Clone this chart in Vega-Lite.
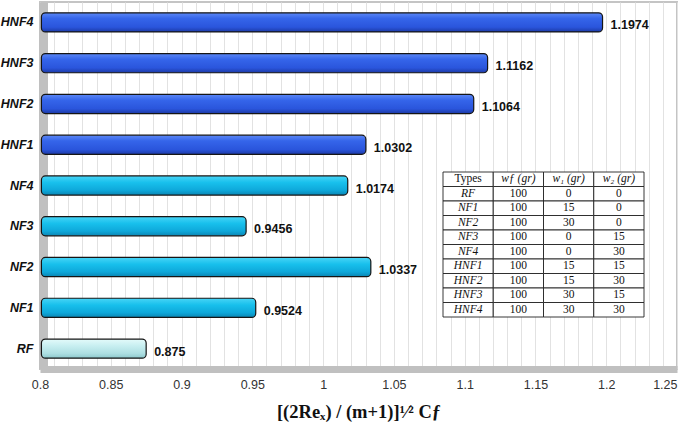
{
  "$schema": "https://vega.github.io/schema/vega-lite/v6.json",
  "autosize": "none",
  "width": 637,
  "height": 367,
  "padding": {"left": 40, "top": 2, "right": 8, "bottom": 60},
  "background": "white",
  "config": {"view": {"stroke": "#c4c4c4", "strokeWidth": 2}},
  "datasets": {
    "bars": [
      {"type": "HNF4", "value": 1.1974, "group": "HNF"},
      {"type": "HNF3", "value": 1.1162, "group": "HNF"},
      {"type": "HNF2", "value": 1.1064, "group": "HNF"},
      {"type": "HNF1", "value": 1.0302, "group": "HNF"},
      {"type": "NF4", "value": 1.0174, "group": "NF"},
      {"type": "NF3", "value": 0.9456, "group": "NF"},
      {"type": "NF2", "value": 1.0337, "group": "NF"},
      {"type": "NF1", "value": 0.9524, "group": "NF"},
      {"type": "RF", "value": 0.875, "group": "RF"}
    ],
    "table": [
      {"row": "hdr", "Types": "Types", "wf": "wƒ (gr)", "w1": "w₁ (gr)", "w2": "w₂ (gr)"},
      {"row": "RF", "Types": "RF", "wf": "100", "w1": "0", "w2": "0"},
      {"row": "NF1", "Types": "NF1", "wf": "100", "w1": "15", "w2": "0"},
      {"row": "NF2", "Types": "NF2", "wf": "100", "w1": "30", "w2": "0"},
      {"row": "NF3", "Types": "NF3", "wf": "100", "w1": "0", "w2": "15"},
      {"row": "NF4", "Types": "NF4", "wf": "100", "w1": "0", "w2": "30"},
      {"row": "HNF1", "Types": "HNF1", "wf": "100", "w1": "15", "w2": "15"},
      {"row": "HNF2", "Types": "HNF2", "wf": "100", "w1": "15", "w2": "30"},
      {"row": "HNF3", "Types": "HNF3", "wf": "100", "w1": "30", "w2": "15"},
      {"row": "HNF4", "Types": "HNF4", "wf": "100", "w1": "30", "w2": "30"}
    ]
  },
  "layer": [
    {
      "data": {"name": "bars"},
      "encoding": {
        "y": {
          "field": "type", "type": "nominal",
          "scale": {"domain": ["HNF4", "HNF3", "HNF2", "HNF1", "NF4", "NF3", "NF2", "NF1", "RF"], "paddingInner": 0.53, "paddingOuter": 0.265},
          "axis": {
            "title": null, "ticks": false, "grid": false, "offset": -3,
            "domainColor": "#c0c0c0", "domainWidth": 9,
            "labelFont": "Liberation Sans", "labelFontSize": 12.5, "labelFontWeight": "bold", "labelFontStyle": "italic",
            "labelColor": "#111", "labelPadding": 10
          }
        },
        "x": {
          "field": "value", "type": "quantitative",
          "scale": {"domain": [0.8, 1.25], "nice": false, "zero": false},
          "axis": {
            "title": "[(2Reₓ) / (m+1)]¹⁄² Cƒ",
            "titleFont": "Liberation Serif", "titleFontSize": 18.5, "titleFontWeight": "bold", "titleColor": "#111", "titlePadding": 12,
            "values": [0.8, 0.81, 0.82, 0.83, 0.84, 0.85, 0.86, 0.87, 0.88, 0.89, 0.9, 0.91, 0.92, 0.93, 0.94, 0.95, 0.96, 0.97, 0.98, 0.99, 1, 1.01, 1.02, 1.03, 1.04, 1.05, 1.06, 1.07, 1.08, 1.09, 1.1, 1.11, 1.12, 1.13, 1.14, 1.15, 1.16, 1.17, 1.18, 1.19, 1.2, 1.21, 1.22, 1.23, 1.24, 1.25],
            "labelExpr": "round(datum.value * 100) % 5 == 0 ? '' + datum.value : ''",
            "labelAlign": {"expr": "datum.value == 1.25 ? 'right' : 'center'"},
            "labelFont": "Liberation Sans", "labelFontSize": 12.5, "labelColor": "#333", "labelPadding": 9,
            "ticks": false, "grid": true, "gridColor": "#e2e2e2", "gridWidth": 1,
            "domainColor": "#c0c0c0", "domainWidth": 7, "labelFlush": false, "labelOverlap": false
          }
        }
      },
      "layer": [
        {
          "transform": [{"filter": "datum.group == 'HNF'"}],
          "mark": {"type": "bar", "cornerRadius": 4, "stroke": "#151515", "strokeWidth": 1.2,
            "fill": {"gradient": "linear", "x1": 0, "y1": 0, "x2": 0, "y2": 1,
              "stops": [{"offset": 0, "color": "#5c88f6"}, {"offset": 0.3, "color": "#3565ea"}, {"offset": 0.75, "color": "#2a55dc"}, {"offset": 1, "color": "#1c3aa6"}]}},
          "encoding": {"x2": {"datum": 0.801}}
        },
        {
          "transform": [{"filter": "datum.group == 'NF'"}],
          "mark": {"type": "bar", "cornerRadius": 4, "stroke": "#151515", "strokeWidth": 1.2,
            "fill": {"gradient": "linear", "x1": 0, "y1": 0, "x2": 0, "y2": 1,
              "stops": [{"offset": 0, "color": "#48d4f6"}, {"offset": 0.35, "color": "#18c0ec"}, {"offset": 0.75, "color": "#0ea8da"}, {"offset": 1, "color": "#0a86b4"}]}},
          "encoding": {"x2": {"datum": 0.801}}
        },
        {
          "transform": [{"filter": "datum.group == 'RF'"}],
          "mark": {"type": "bar", "cornerRadius": 4, "stroke": "#151515", "strokeWidth": 1.2,
            "fill": {"gradient": "linear", "x1": 0, "y1": 0, "x2": 0, "y2": 1,
              "stops": [{"offset": 0, "color": "#e4fbfb"}, {"offset": 0.35, "color": "#c8eff1"}, {"offset": 0.75, "color": "#addfe2"}, {"offset": 1, "color": "#8cc8cc"}]}},
          "encoding": {"x2": {"datum": 0.801}}
        },
        {
          "mark": {"type": "text", "align": "left", "baseline": "middle", "dx": 8, "dy": 3,
            "font": "Liberation Sans", "fontSize": 12.5, "fontWeight": "bold", "color": "#111"},
          "encoding": {"text": {"field": "value", "type": "quantitative", "format": ""}}
        }
      ]
    },
    {
      "data": {"name": "table"},
      "transform": [{"fold": ["Types", "wf", "w1", "w2"], "as": ["col", "text"]}],
      "encoding": {
        "x": {"field": "col", "type": "nominal",
          "scale": {"type": "band", "domain": ["Types", "wf", "w1", "w2"], "paddingInner": 0, "paddingOuter": 0, "range": [403, 604]},
          "axis": null},
        "y": {"field": "row", "type": "nominal",
          "scale": {"type": "band", "domain": ["hdr", "RF", "NF1", "NF2", "NF3", "NF4", "HNF1", "HNF2", "HNF3", "HNF4"], "paddingInner": 0, "paddingOuter": 0, "range": [170, 315]},
          "axis": null}
      },
      "layer": [
        {"mark": {"type": "rect", "fill": "white", "stroke": "#222", "strokeWidth": 0.9}},
        {
          "transform": [{"filter": "(datum.col == 'Types' && datum.row != 'hdr') || (datum.row == 'hdr' && datum.col != 'Types')"}],
          "mark": {"type": "text", "font": "Liberation Serif", "fontSize": 11.5, "fontStyle": "italic", "color": "#111", "baseline": "middle"},
          "encoding": {"text": {"field": "text", "type": "nominal"}}
        },
        {
          "transform": [{"filter": "!((datum.col == 'Types' && datum.row != 'hdr') || (datum.row == 'hdr' && datum.col != 'Types'))"}],
          "mark": {"type": "text", "font": "Liberation Serif", "fontSize": 11.5, "color": "#111", "baseline": "middle"},
          "encoding": {"text": {"field": "text", "type": "nominal"}}
        }
      ]
    }
  ],
  "resolve": {"scale": {"x": "independent", "y": "independent"}, "axis": {"x": "independent", "y": "independent"}}
}
